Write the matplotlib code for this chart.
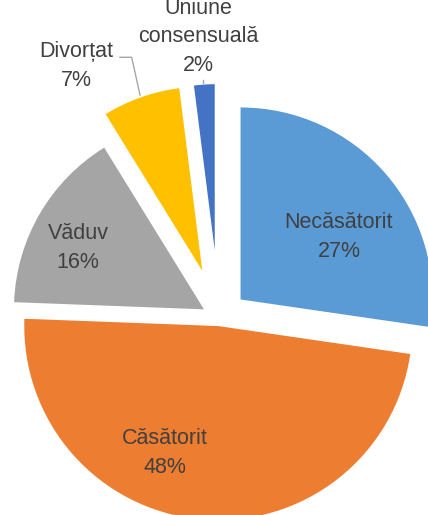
import matplotlib
matplotlib.use('Agg')
import matplotlib.pyplot as plt

# date
categorii = ['Necăsătorit', 'Căsătorit', 'Văduv', 'Divorțat', 'Uniune\nconsensuală']
procente = [27.3, 48.3, 15.6, 6.8, 2.0]
culori = ['#5B9BD5', '#ED7D31', '#A5A5A5', '#FFC000', '#4472C4']

# asezare (in pixeli, y in sus)
centru = (219, 196.9)
explodare = [28.5, 8, 17.4, 50.2, 68]
raze = [192, 194, 190, 184, 166]
pozitii_etichete = [(339, 278), (165, 62), (78, 267), (76, 449), (198, 478)]

plt.rcParams['font.family'] = ['Liberation Sans', 'DejaVu Sans']

fig = plt.figure(figsize=(4.28, 5.15), dpi=100)
ax = fig.add_axes([0, 0, 1, 1])

wedges, _ = ax.pie(procente, colors=culori, startangle=90, counterclock=False,
                   explode=explodare, radius=190, center=centru)
for w, r in zip(wedges, raze):
    w.set_radius(r)
    w.set_linewidth(0)

for nume, p, (x, y) in zip(categorii, procente, pozitii_etichete):
    ax.text(x, y, f'{nume}\n{p:.0f}%', ha='center', va='center',
            fontsize=15.5, color='#404040', linespacing=1.45)

# linie de legatura pentru Divortat
ax.plot([120, 131.7, 140], [515 - 57.3, 515 - 57.3, 515 - 95], color='#A6A6A6', lw=1)
ax.plot([203, 203], [515 - 80, 515 - 83], color='#A6A6A6', lw=1)

ax.set_xlim(0, 428)
ax.set_ylim(0, 515)
ax.set_aspect('equal')
ax.axis('off')

plt.savefig('out.png', dpi=100)
